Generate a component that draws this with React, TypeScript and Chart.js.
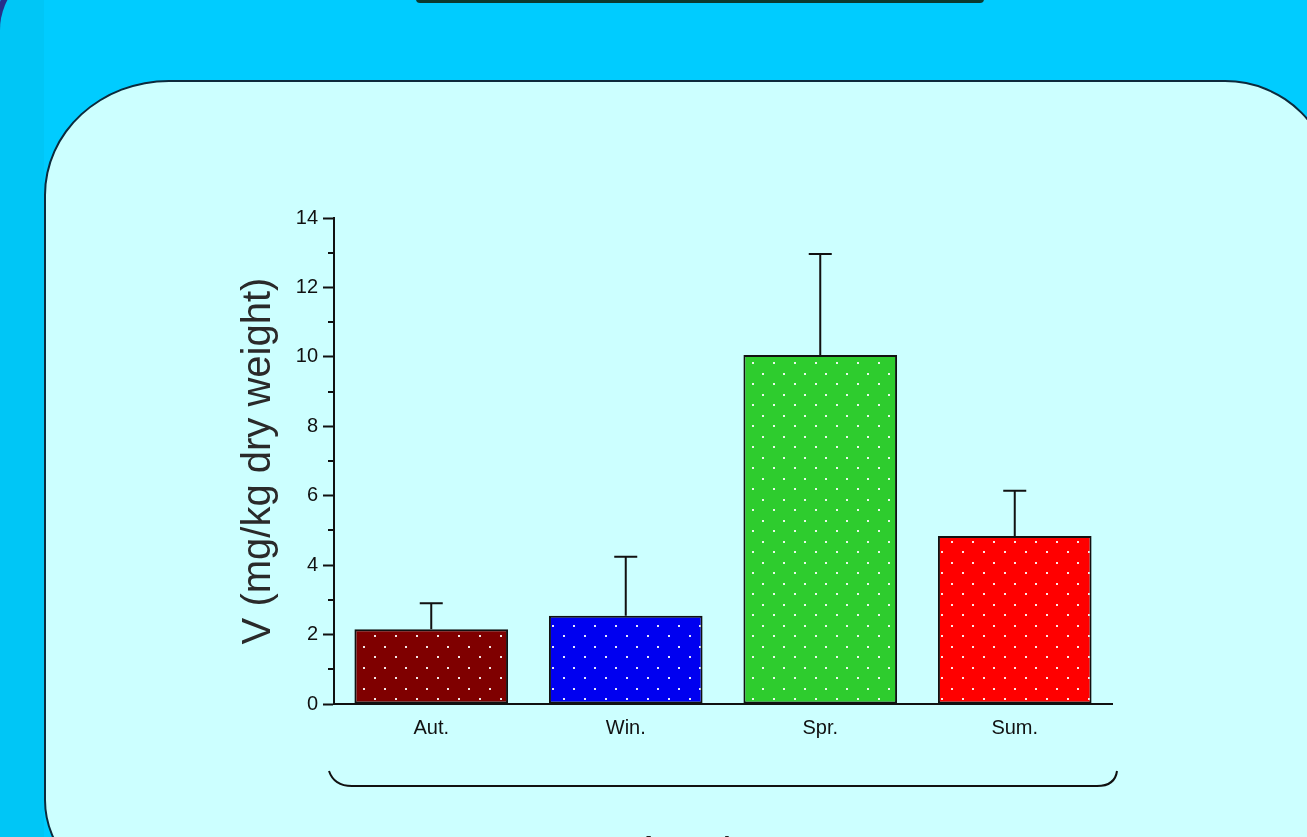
import React, { useEffect, useRef } from "react";
import { Chart, registerables } from "chart.js";

Chart.register(...registerables);

// ---- data ----
const categories = ["Aut.", "Win.", "Spr.", "Sum."];
const means = [2.15, 2.54, 10.05, 4.84];
const errors = [0.75, 1.7, 2.91, 1.3];
const barColors = ["#7f0000", "#0000f0", "#2ecc2e", "#ff0000"];
const yTicks = [0, 2, 4, 6, 8, 10, 12, 14];
const yMinorTicks = [1, 3, 5, 7, 9, 11, 13];
const yTitle = "V (mg/kg dry weight)";
const footerText = "Río Tinto";

const FONT = "'Liberation Sans', Arial, sans-serif";

function makePattern(color: string): CanvasPattern | string {
  const c = document.createElement("canvas");
  c.width = 21;
  c.height = 21;
  const g = c.getContext("2d");
  if (!g) return color;
  g.fillStyle = color;
  g.fillRect(0, 0, 21, 21);
  g.fillStyle = "rgba(255,255,255,0.9)";
  g.fillRect(4, 4, 2, 2);
  g.fillRect(14, 15, 2, 2);
  return g.createPattern(c, "repeat") || color;
}

const errorBarPlugin = {
  id: "errorBars",
  afterDatasetsDraw(chart: any) {
    const meta = chart.getDatasetMeta(0);
    const y = chart.scales.y;
    const ctx = chart.ctx;
    ctx.save();
    ctx.strokeStyle = "#111";
    ctx.lineWidth = 2;
    meta.data.forEach((bar: any, i: number) => {
      const base = y.getPixelForValue(means[i]);
      const top = y.getPixelForValue(means[i] + errors[i]);
      ctx.beginPath();
      ctx.moveTo(bar.x, base);
      ctx.lineTo(bar.x, top);
      ctx.moveTo(bar.x - 11.5, top);
      ctx.lineTo(bar.x + 11.5, top);
      ctx.stroke();
    });
    ctx.restore();
  },
};

const minorTickPlugin = {
  id: "minorTicks",
  afterDraw(chart: any) {
    const y = chart.scales.y;
    const ctx = chart.ctx;
    ctx.save();
    ctx.strokeStyle = "#111";
    ctx.lineWidth = 2;
    yMinorTicks.forEach((v) => {
      const py = Math.round(y.getPixelForValue(v));
      ctx.beginPath();
      ctx.moveTo(y.right - 6, py);
      ctx.lineTo(y.right, py);
      ctx.stroke();
    });
    ctx.restore();
  },
};

export default function App() {
  const canvasRef = useRef<HTMLCanvasElement | null>(null);

  useEffect(() => {
    const canvas = canvasRef.current;
    if (!canvas) return;
    const chart = new Chart(canvas, {
      type: "bar",
      data: {
        labels: categories,
        datasets: [
          {
            data: means,
            backgroundColor: barColors.map((c) => makePattern(c)) as any,
            borderColor: "#111",
            borderWidth: 2,
            borderSkipped: false,
            categoryPercentage: 1,
            barPercentage: 0.79,
          },
        ],
      },
      options: {
        responsive: false,
        animation: false,
        devicePixelRatio: 1,
        layout: { padding: { left: 0, top: 28, right: 28, bottom: 0 } },
        plugins: {
          legend: { display: false },
          tooltip: { enabled: false },
        },
        scales: {
          x: {
            offset: true,
            grid: { display: false, drawTicks: false },
            border: { display: true, color: "#111", width: 2 },
            ticks: { color: "#111", font: { family: FONT, size: 20 }, padding: 12 },
            afterFit: (scale: any) => {
              scale.height = 50;
            },
          },
          y: {
            min: 0,
            max: 14,
            afterBuildTicks: (scale: any) => {
              scale.ticks = yTicks.map((v) => ({ value: v }));
            },
            ticks: { color: "#111", font: { family: FONT, size: 20 }, padding: 5 },
            grid: {
              drawOnChartArea: false,
              drawTicks: true,
              tickLength: 11,
              tickColor: "#111",
              tickWidth: 2,
            },
            border: { display: true, color: "#111", width: 2 },
            title: {
              display: true,
              text: yTitle,
              color: "#2a2a2a",
              font: { family: FONT, size: 40, lineHeight: 1.2 },
              padding: { top: 75, bottom: 0 },
            },
            afterFit: (scale: any) => {
              scale.width = 174;
            },
          },
        },
      },
      plugins: [errorBarPlugin, minorTickPlugin],
    });
    return () => chart.destroy();
  }, []);

  return (
    <div
      style={{
        position: "fixed",
        left: 0,
        top: 0,
        width: 1307,
        height: 837,
        overflow: "hidden",
        background: "#00ccff",
      }}
    >
      <div
        style={{
          position: "absolute",
          left: 0,
          top: 0,
          width: 44,
          height: 900,
          background: "#00c6f6",
        }}
      />
      <div
        style={{
          position: "absolute",
          left: -6,
          top: -40,
          width: 600,
          height: 1000,
          borderLeft: "6px solid #26308a",
          borderTop: "6px solid #26308a",
          borderTopLeftRadius: 70,
        }}
      />
      <div
        style={{
          position: "absolute",
          left: 416,
          top: -30,
          width: 568,
          height: 33,
          background: "#0b3a30",
          borderRadius: 4,
        }}
      />
      <div
        style={{
          position: "absolute",
          left: 44,
          top: 80,
          width: 1290,
          height: 810,
          boxSizing: "border-box",
          background: "#ccffff",
          border: "2px solid #0c2a3c",
          borderTopLeftRadius: "125px 115px",
          borderTopRightRadius: 109,
          borderBottomLeftRadius: 90,
          borderBottomRightRadius: 90,
        }}
      />
      <canvas
        ref={canvasRef}
        width={980}
        height={564}
        style={{ position: "absolute", left: 160, top: 190, width: 980, height: 564 }}
      />
      <svg
        width={1307}
        height={837}
        style={{ position: "absolute", left: 0, top: 0, pointerEvents: "none" }}
      >
        <path
          d="M 329 771 Q 334 786 352 786 L 1097 786 Q 1115 786 1117 771"
          fill="none"
          stroke="#111"
          strokeWidth={2}
        />
      </svg>
      <div
        style={{
          position: "absolute",
          left: 607,
          top: 832,
          fontFamily: FONT,
          fontSize: 40,
          lineHeight: "40px",
          color: "#222",
          whiteSpace: "nowrap",
          letterSpacing: 4,
        }}
      >
        {footerText}
      </div>
    </div>
  );
}
